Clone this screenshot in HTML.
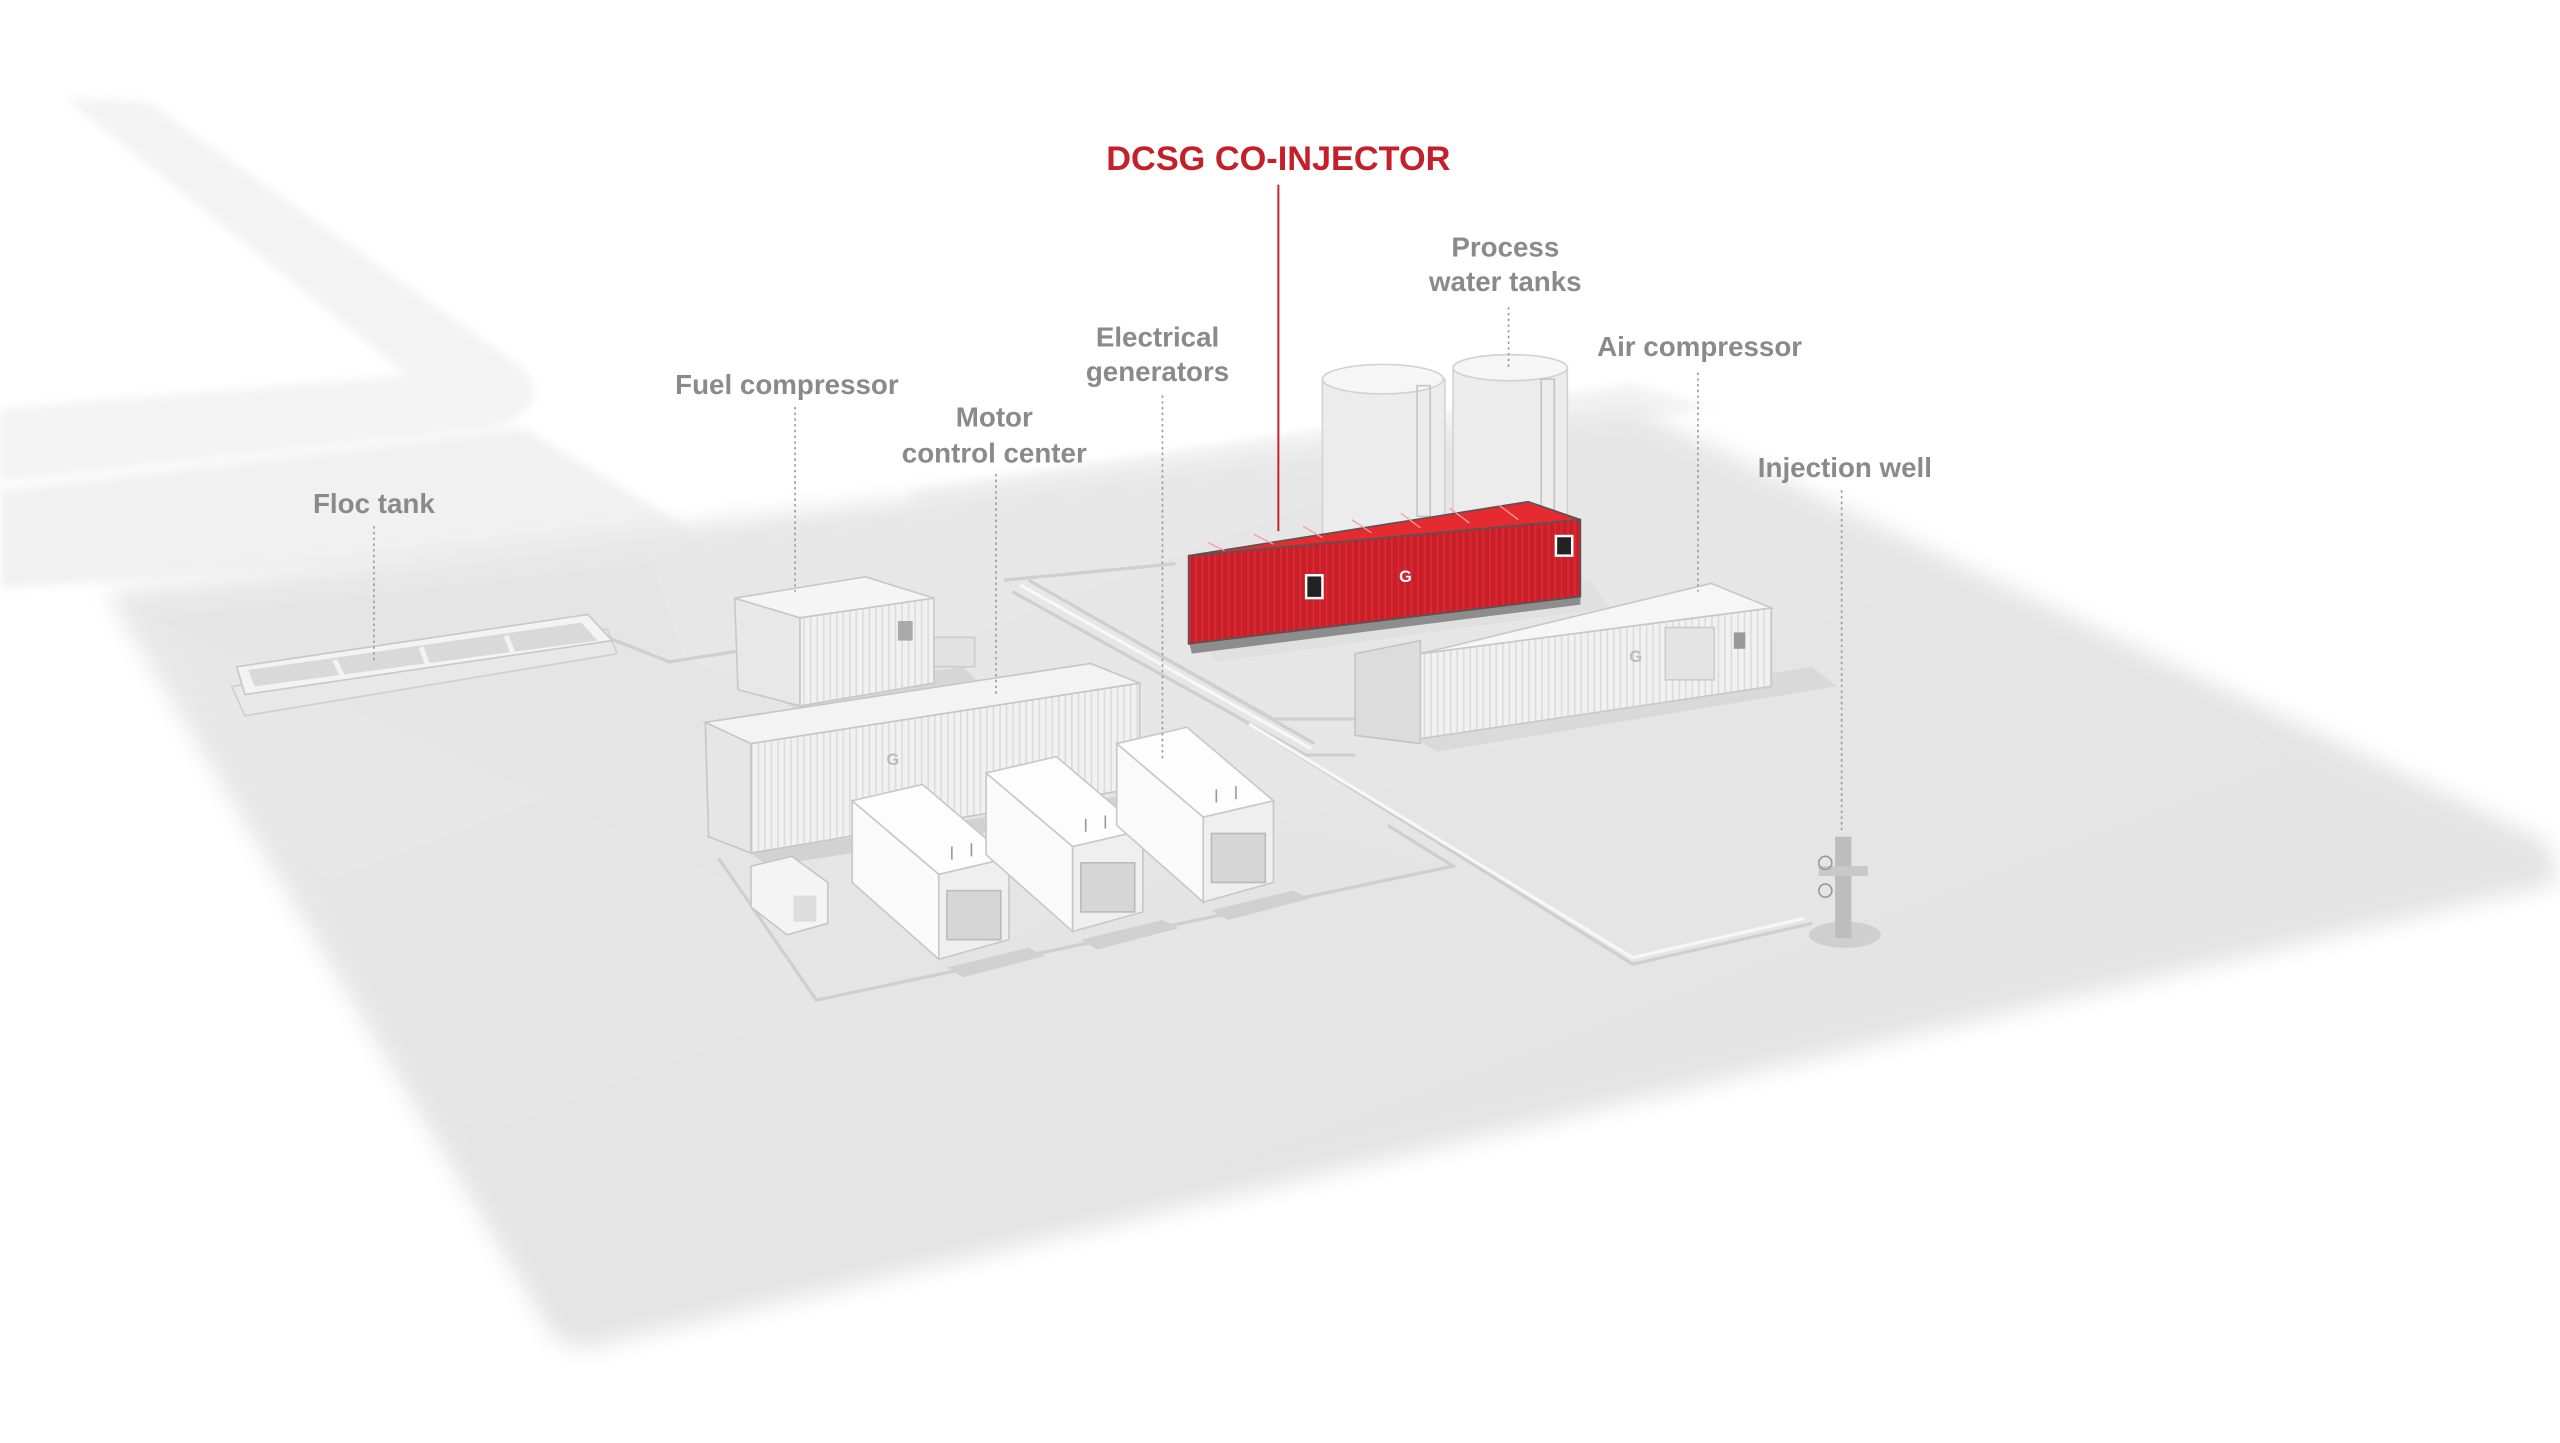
<!DOCTYPE html>
<html><head><meta charset="utf-8"><style>
html,body{margin:0;padding:0;background:#fff;}
svg{display:block;}
text{font-family:"Liberation Sans",sans-serif;font-weight:bold;}
</style></head><body>
<svg width="2560" height="1443" viewBox="0 0 1568 883" preserveAspectRatio="none" xmlns="http://www.w3.org/2000/svg">
<defs>
<linearGradient id="g1" x1="0" y1="0" x2="1" y2="1">
<stop offset="0" stop-color="#e8e8e8"/><stop offset="1" stop-color="#e2e2e2"/></linearGradient>
<filter id="bl" x="-10%" y="-10%" width="120%" height="120%"><feGaussianBlur stdDeviation="7"/></filter>
<filter id="bl2"><feGaussianBlur stdDeviation="3"/></filter>
<pattern id="rib" width="4" height="10" patternUnits="userSpaceOnUse"><rect width="4" height="10" fill="#f1f1f1"/><rect width="1" height="10" fill="#dcdcdc"/></pattern>
<pattern id="ribr" width="4" height="10" patternUnits="userSpaceOnUse"><rect width="4" height="10" fill="#c8202a"/><rect width="1" height="10" fill="#e02a32"/></pattern>
</defs>
<rect width="1568" height="883" fill="#fff"/>
<!-- roads -->
<g filter="url(#bl2)">
<path d="M40,60 L90,62 L320,225 Q340,250 300,262 L0,295 L0,250 L250,230 Z" fill="#f3f3f3"/>
<path d="M0,300 L320,262 L420,322 Q430,330 400,335 L0,360 Z" fill="#f1f1f1"/>
<path d="M560,300 L1000,235 L1050,250 L580,315 Q550,312 560,300 Z" fill="#f3f3f3"/>
</g>
<!-- main pad -->
<g filter="url(#bl)">
<path d="M65,362 L560,305 L1000,250 L1560,515 L1568,540 L360,825 L340,820 Z" fill="url(#g1)"/>
</g>
<path d="M100,378 L400,345 L420,405 L890,530 L500,610 L450,540 L100,380 Z" fill="#e3e3e3" opacity="0.5"/>
<!-- pad outlines / pipes -->
<g fill="none" stroke="#cfcfcf" stroke-width="2">
<polyline points="372,390 410,405 455,398"/>
<polyline points="440,525 500,612 890,530 850,505"/>
<polyline points="615,355 720,345"/>
<polyline points="620,362 800,462 830,462"/>
<polyline points="630,355 805,455"/>
<polyline points="760,440 1000,590 1110,565"/>
<polyline points="700,395 780,440 860,440"/>
</g>
<g fill="none" stroke="#f7f7f7" stroke-width="2">
<polyline points="625,358 803,458"/>
<polyline points="765,443 1000,586 1105,562"/>
</g>
<!-- floc tank -->
<path d="M142,420 L150,438 L378,400 L372,385 Z" fill="#e8e8e8" stroke="#cfcfcf"/>
<path d="M145,408 L360,376 L375,392 L150,425 Z" fill="#f3f3f3" stroke="#c8c8c8"/>
<path d="M152,410 L356,381 L366,392 L156,420 Z" fill="#d9d9d9"/>
<g stroke="#f3f3f3" stroke-width="3"><line x1="205" y1="404" x2="210" y2="414"/><line x1="258" y1="396" x2="262" y2="407"/><line x1="310" y1="389" x2="314" y2="399"/></g>
<!-- tanks -->
<g>
<rect x="810" y="232" width="75" height="95" fill="#ececec" stroke="#d2d2d2"/>
<ellipse cx="847" cy="232" rx="37" ry="9" fill="#f6f6f6" stroke="#d2d2d2"/>
<rect x="890" y="225" width="70" height="95" fill="#ececec" stroke="#d2d2d2"/>
<ellipse cx="925" cy="225" rx="35" ry="8" fill="#f6f6f6" stroke="#d2d2d2"/>
<rect x="868" y="236" width="8" height="80" fill="none" stroke="#c4c4c4"/>
<rect x="944" y="232" width="8" height="80" fill="none" stroke="#c4c4c4"/>
</g>
<!-- red DCSG -->
<path d="M735,390 L975,355 L985,372 L745,405 Z" fill="#ddd" opacity="0.7"/>
<path d="M728,392 L968,362 L968,370 L730,400 Z" fill="#8d8d8d"/>
<path d="M728,340 L968,318 L968,365 L728,394 Z" fill="url(#ribr)" stroke="#555" stroke-width="1"/>
<path d="M728,340 L936,307 L968,318 L728,340 Z" fill="#e52a30" stroke="#555" stroke-width="1"/>
<g stroke="#f3a0a0" stroke-width="0.8"><line x1="750" y1="337" x2="740" y2="332"/><line x1="780" y1="333" x2="768" y2="327"/><line x1="810" y1="329" x2="798" y2="322"/><line x1="840" y1="326" x2="828" y2="318"/><line x1="870" y1="323" x2="858" y2="314"/><line x1="900" y1="320" x2="888" y2="311"/><line x1="930" y1="318" x2="918" y2="309"/></g>
<rect x="800" y="352" width="10" height="14" fill="#222" stroke="#fff" stroke-width="1.5"/>
<rect x="953" y="328" width="10" height="12" fill="#222" stroke="#fff" stroke-width="1.5"/>
<text x="857" y="356" font-size="10" fill="#fff">G</text>
<!-- air compressor -->
<path d="M860,448 L1110,408 L1125,420 L880,460 Z" fill="#d4d4d4" opacity="0.7"/>
<path d="M830,400 L870,392 L870,455 L830,450 Z" fill="#dcdcdc" stroke="#c4c4c4"/>
<path d="M870,400 L1085,372 L1085,420 L870,452 Z" fill="url(#rib)" stroke="#c8c8c8"/>
<path d="M870,400 L1048,357 L1085,372 L870,400 Z" fill="#f6f6f6" stroke="#c8c8c8"/>
<rect x="1020" y="384" width="30" height="32" fill="#e4e4e4" stroke="#ccc"/>
<rect x="1062" y="387" width="7" height="10" fill="#999"/>
<text x="998" y="405" font-size="10" fill="#bbb">G</text>
<!-- fuel compressor -->
<path d="M470,425 L590,408 L600,418 L490,435 Z" fill="#d6d6d6"/>
<rect x="572" y="390" width="25" height="18" fill="#e2e2e2" stroke="#ccc"/>
<path d="M450,366 L490,378 L490,432 L452,422 Z" fill="#e8e8e8" stroke="#c8c8c8"/>
<path d="M490,378 L572,366 L572,418 L490,432 Z" fill="url(#rib)" stroke="#c8c8c8"/>
<path d="M450,366 L530,353 L572,366 L490,378 Z" fill="#f5f5f5" stroke="#c8c8c8"/>
<rect x="550" y="380" width="9" height="12" fill="#aaa"/>
<!-- motor control center -->
<path d="M460,522 L720,482 L730,490 L470,530 Z" fill="#d2d2d2"/>
<path d="M432,442 L460,455 L460,522 L434,512 Z" fill="#e6e6e6" stroke="#c6c6c6"/>
<path d="M460,455 L698,418 L698,482 L460,522 Z" fill="url(#rib)" stroke="#c6c6c6"/>
<path d="M432,442 L668,406 L698,418 L460,455 Z" fill="#f3f3f3" stroke="#c6c6c6"/>
<text x="543" y="468" font-size="10" fill="#bbb">G</text>
<!-- small unit -->
<path d="M460,530 L485,524 L507,540 L507,565 L482,572 L460,555 Z" fill="#f4f4f4" stroke="#c6c6c6"/>
<rect x="486" y="548" width="14" height="16" fill="#ddd"/>
<!-- generators -->
<g id="gen">
<path d="M580,592 L630,580 L640,585 L590,598 Z" fill="#d0d0d0"/>
<path d="M522,490 L575,535 L575,587 L522,540 Z" fill="#fafafa" stroke="#c8c8c8"/>
<path d="M575,535 L618,525 L618,575 L575,587 Z" fill="#efefef" stroke="#c8c8c8"/>
<path d="M522,490 L565,480 L618,525 L575,535 Z" fill="#fdfdfd" stroke="#c8c8c8"/>
<rect x="580" y="545" width="33" height="30" fill="#d6d6d6" stroke="#bbb"/>
<g stroke="#999"><line x1="583" y1="518" x2="583" y2="526"/><line x1="595" y1="516" x2="595" y2="524"/></g>
</g>
<use href="#gen" transform="translate(82,-17)"/>
<use href="#gen" transform="translate(162,-35)"/>
<!-- injection well -->
<ellipse cx="1130" cy="572" rx="22" ry="8" fill="#cfcfcf"/>
<rect x="1124" y="512" width="10" height="62" fill="#bdbdbd"/>
<rect x="1114" y="530" width="30" height="6" fill="#c8c8c8"/>
<circle cx="1118" cy="528" r="4" fill="none" stroke="#999"/>
<circle cx="1118" cy="545" r="4" fill="none" stroke="#999"/>
<!-- leader lines -->
<g stroke="#9a9a9a" stroke-width="1" stroke-dasharray="1.5,2">
<line x1="229" y1="322" x2="229" y2="405"/>
<line x1="487" y1="249" x2="487" y2="362"/>
<line x1="610" y1="290" x2="610" y2="425"/>
<line x1="712" y1="242" x2="712" y2="464"/>
<line x1="924" y1="188" x2="924" y2="225"/>
<line x1="1040" y1="228" x2="1040" y2="362"/>
<line x1="1128" y1="300" x2="1128" y2="510"/>
</g>
<line x1="783" y1="113" x2="783" y2="325" stroke="#c8202a" stroke-width="1.2"/>
<!-- labels -->
<g fill="#8a8a8a" font-size="17" text-anchor="middle">
<text x="229" y="314">Floc tank</text>
<text x="482" y="241">Fuel compressor</text>
<text x="609" y="261">Motor</text>
<text x="609" y="283">control center</text>
<text x="709" y="212">Electrical</text>
<text x="709" y="233">generators</text>
<text x="922" y="157">Process</text>
<text x="922" y="178">water tanks</text>
<text x="1041" y="218">Air compressor</text>
<text x="1130" y="292">Injection well</text>
</g>
<text x="783" y="104" font-size="21" fill="#c4202a" text-anchor="middle">DCSG CO-INJECTOR</text>
</svg>
</body></html>
